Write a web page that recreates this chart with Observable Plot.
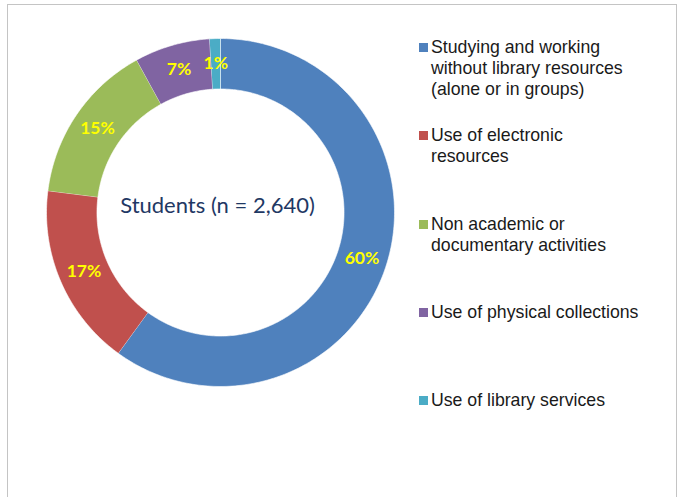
<!DOCTYPE html>
<html><head><meta charset="utf-8">
<script src="https://cdn.jsdelivr.net/npm/d3@7"></script>
<script src="https://cdn.jsdelivr.net/npm/@observablehq/plot@0.6"></script>
<style>
body{margin:0;background:#fff;}
#wrap{position:relative;width:677px;height:497px;overflow:hidden;background:#fff;}
#frame{position:absolute;left:7px;top:4px;width:670px;height:510px;border:1px solid #c4c4c4;box-sizing:border-box;}
#chart{position:absolute;left:0;top:0;}
#legend{position:absolute;left:419px;top:37px;font-family:"Liberation Sans",Arial,sans-serif;font-size:17.7px;line-height:21px;color:#1a1a1a;}
.item{height:88.3px;display:flex;align-items:flex-start;}
.sw{width:9px;height:9px;margin-top:6px;margin-right:3px;flex:none;}
.lbl{white-space:pre-line;}
</style>
</head><body>
<div id="wrap"><div id="frame"></div><div id="chart"></div><div id="legend"></div></div>
<script>
const categories = [
  "Studying and working without library resources (alone or in groups)",
  "Use of electronic resources",
  "Non academic or documentary activities",
  "Use of physical collections",
  "Use of library services"
];
const legendLabels = [
  "Studying and working\nwithout library resources\n(alone or in groups)",
  "Use of electronic\nresources",
  "Non academic or\ndocumentary activities",
  "Use of physical collections",
  "Use of library services"
];
const values = [60, 17, 15, 7, 1];
const colors = ["#4F81BD", "#C0504D", "#9BBB59", "#8064A2", "#4BACC6"];
const centerLabel = "Students (n = 2,640)";

const rows = categories.map((c, i) => ({category: c, value: values[i]}));
const pie = d3.pie().value(d => d.value).sort(null)(rows);
const R = 1, r0 = 0.71;
const poly = [];
const labels = [];
pie.forEach(p => {
  const span = p.endAngle - p.startAngle;
  const n = Math.max(2, Math.ceil(span / (Math.PI / 180)));
  for (let k = 0; k <= n; k++) {
    const a = p.startAngle + span * k / n;
    poly.push({category: p.data.category, x: R * Math.sin(a), y: R * Math.cos(a)});
  }
  for (let k = n; k >= 0; k--) {
    const a = p.startAngle + span * k / n;
    poly.push({category: p.data.category, x: r0 * Math.sin(a), y: r0 * Math.cos(a)});
  }
  const m = (p.startAngle + p.endAngle) / 2, rm = (R + r0) / 2;
  labels.push({x: rm * Math.sin(m), y: rm * Math.cos(m), text: p.data.value + "%"});
});

const W = 677, H = 497, cx = 220, cy = 212, pxPerUnit = 174;
const chart = Plot.plot({
  width: W, height: H, margin: 0,
  x: {domain: [-cx / pxPerUnit, (W - cx) / pxPerUnit], axis: null},
  y: {domain: [(cy - H) / pxPerUnit, cy / pxPerUnit], axis: null},
  color: {domain: categories, range: colors},
  style: {background: "transparent", overflow: "visible"},
  marks: [
    Plot.line(poly, {x: "x", y: "y", z: "category", fill: "category", stroke: "white", strokeWidth: 0.6}),
    Plot.text(labels, {x: "x", y: "y", text: "text", fill: "#FFFF00", fontWeight: "bold", fontSize: 17.5, fontFamily: "Lato, sans-serif"}),
    Plot.text([centerLabel], {x: () => 0, y: () => 0, text: d => d, dx: -3, dy: -7, fill: "#1F3864", fontSize: 22, fontFamily: "Lato, sans-serif"})
  ]
});
document.getElementById("chart").appendChild(chart);

const legend = document.getElementById("legend");
legendLabels.forEach((t, i) => {
  const item = document.createElement("div"); item.className = "item";
  const sw = document.createElement("div"); sw.className = "sw"; sw.style.background = colors[i];
  const lb = document.createElement("div"); lb.className = "lbl"; lb.textContent = t;
  item.appendChild(sw); item.appendChild(lb); legend.appendChild(item);
});
</script>
</body></html>
